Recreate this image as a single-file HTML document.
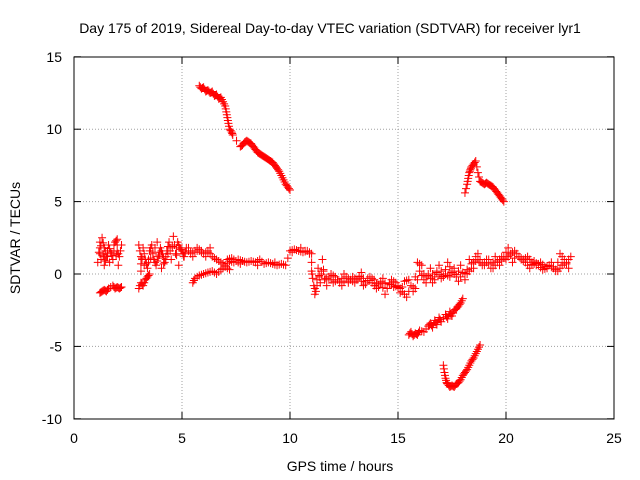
<!DOCTYPE html>
<html><head><meta charset="utf-8"><style>
body{margin:0;background:#fff}
svg{display:block;font-family:"Liberation Sans",sans-serif}
</style></head><body>
<svg id="c" width="640" height="480">
<rect width="640" height="480" fill="#fff"/>
<text x="330" y="33" font-size="14" text-anchor="middle">Day 175 of 2019, Sidereal Day-to-day VTEC variation (SDTVAR) for receiver lyr1</text>
<text x="340" y="471" font-size="14" text-anchor="middle">GPS time / hours</text>
<text transform="translate(20,238) rotate(-90)" font-size="14" text-anchor="middle">SDTVAR / TECUs</text>
<g id="grid"></g><g id="marks"></g>
<rect x="74" y="57" width="540" height="362" fill="none" stroke="#000"/>
</svg>
<script>
const xTicks=[0,5,10,15,20,25];
const yTicks=[-10,-5,0,5,10,15];
const trackAx=[5.8,5.9,6.0,6.1,6.2,6.3,6.4,6.5,6.6,6.7,6.8,6.9,7.0,7.05,7.1,7.15,7.2,7.3,7.35,7.7,7.8,7.9,8.0,8.1,8.2,8.3,8.4,8.5,8.6,8.7,8.8,8.9,9.0,9.1,9.2,9.3,9.4,9.5,9.6,9.7,9.8,9.9,10.0];
const trackAy=[13.0,12.8,12.9,12.6,12.7,12.5,12.6,12.3,12.4,12.1,12.2,11.9,11.6,11.2,10.8,10.4,10.0,9.8,9.6,8.8,8.9,9.1,9.2,9.1,9.0,8.8,8.6,8.4,8.3,8.2,8.1,8.0,7.9,7.8,7.7,7.5,7.3,7.1,6.8,6.5,6.2,6.0,5.8];
const trackBx=[18.1,18.2,18.25,18.3,18.35,18.4,18.5,18.6,18.7,18.8,18.9,19.0,19.1,19.2,19.3,19.4,19.5,19.6,19.7,19.8,19.9];
const trackBy=[5.6,6.2,6.6,7.0,7.2,7.4,7.6,7.8,7.0,6.4,6.3,6.2,6.3,6.2,6.1,6.0,5.8,5.6,5.4,5.2,5.0];
const trackCx=[15.5,15.6,15.7,15.8,15.9,16.0,16.2,16.4,16.5,16.6,16.7,16.8,16.9,17.0,17.2,17.3,17.4,17.5,17.6,17.7,17.8,17.9,18.0];
const trackCy=[-4.2,-4.0,-4.3,-4.1,-4.2,-3.9,-4.0,-3.6,-3.4,-3.7,-3.2,-3.5,-3.0,-3.3,-2.8,-3.1,-2.6,-2.9,-2.5,-2.4,-2.2,-2.0,-1.7];
const trackDx=[17.1,17.15,17.2,17.25,17.3,17.4,17.5,17.6,17.7,17.8,17.9,18.0,18.1,18.2,18.3,18.4,18.5,18.6,18.7,18.8];
const trackDy=[-6.3,-6.8,-7.2,-7.5,-7.6,-7.8,-7.7,-7.8,-7.6,-7.5,-7.3,-7.0,-6.8,-6.6,-6.3,-6.0,-5.8,-5.5,-5.2,-4.9];
const lowX=[1.2,1.3,1.4,1.5,1.6,1.8,1.9,2.0,2.1,2.2,3.0,3.1,3.2,3.3,3.4,3.5,5.5,5.6,5.8,6.0,6.2,6.4,6.6,6.8,7.0,7.2];
const lowY=[-1.3,-1.2,-1.1,-1.2,-1.0,-0.8,-1.0,-0.9,-1.0,-0.9,-1.0,-0.6,-0.8,-0.4,-0.2,0.0,-0.6,-0.3,-0.1,0.0,0.1,0.2,0.0,0.3,0.5,0.3];
const bandX=[1.1,1.2,1.2,1.3,1.4,1.4,1.5,1.6,1.7,1.8,1.9,2.0,2.0,2.1,2.2,3.0,3.1,3.1,3.2,3.3,3.4,3.5,3.6,3.7,3.8,3.9,4.0,4.1,4.2,4.3,4.4,4.5,4.6,4.7,4.8,4.9,5.0,5.1,5.2,5.4,5.6,5.8,6.0,6.2,6.4,6.6,6.8,7.0,7.2,7.4,7.6,7.8,8.0,8.2,8.4,8.6,8.8,9.0,9.2,9.4,9.6,9.8,10.0,10.2,10.4,10.6,10.8,11.0,11.0,11.1,11.2,11.3,11.4,11.5,11.6,11.8,12.0,12.2,12.4,12.6,12.8,13.0,13.2,13.4,13.6,13.8,14.0,14.2,14.4,14.6,14.8,15.0,15.2,15.4,15.6,15.8,16.0,16.2,16.4,16.6,16.8,17.0,17.2,17.4,17.6,17.8,18.0,18.2,18.4,18.6,18.8,19.0,19.2,19.4,19.6,19.8,20.0,20.2,20.4,20.6,20.8,21.0,21.2,21.4,21.6,21.8,22.0,22.2,22.4,22.6,22.8,23.0];
const bandY=[0.8,2.2,1.4,2.5,1.8,0.6,1.2,2.0,1.5,1.0,2.2,2.4,1.6,1.2,2.0,2.0,1.2,0.2,1.8,1.0,0.4,1.6,2.0,1.0,0.6,1.2,1.8,1.4,0.8,1.6,2.2,1.0,2.6,1.4,2.2,1.8,1.6,1.2,1.8,1.4,1.6,1.6,1.4,1.6,1.2,1.0,0.8,0.6,0.9,0.8,1.0,0.9,0.8,0.9,0.8,1.0,0.7,0.8,0.7,0.6,0.7,0.6,1.6,1.7,1.6,1.5,1.6,1.4,0.2,-0.8,-1.2,0.4,-0.6,1.0,-0.4,-0.2,-0.6,-0.4,-0.8,-0.2,-0.4,-0.6,-0.2,-0.8,-0.3,-0.6,-1.0,-0.5,-1.4,-0.6,-0.9,-0.8,-1.2,-1.6,-0.8,-1.0,0.2,-0.4,0.0,-0.6,0.2,-0.3,0.0,-0.2,0.4,-0.5,0.1,0.0,0.4,1.2,0.8,0.6,1.0,0.4,0.8,1.2,1.0,1.4,1.6,1.2,1.0,1.2,0.8,0.6,0.8,0.5,0.6,0.4,0.2,0.6,0.8,1.2,0.8,1.0];
const band2X=[1.25,1.45,1.65,1.85,2.05,3.05,3.25,3.45,3.65,3.85,4.05,4.25,4.45,4.65,4.85,5.3,5.5,5.7,5.9,6.1,6.3,7.1,7.3,7.5,7.7,8.5,9.3,10.1,10.5,10.9,11.15,11.35,11.55,11.7,11.9,12.1,12.3,12.5,12.7,12.9,13.1,13.3,13.5,13.7,13.9,14.1,14.3,14.5,14.7,14.9,15.1,15.3,15.5,15.7,15.9,16.1,16.3,16.5,16.7,16.9,17.1,17.3,17.5,17.7,17.9,18.1,18.3,18.5,18.7,18.9,19.1,19.3,19.5,19.7,19.9,20.1,20.3,20.5,20.7,20.9,21.1,21.3,21.5,21.7,21.9,22.1,22.3,22.5,22.7,22.9];
const band2Y=[1.0,1.6,0.8,2.0,0.6,1.6,0.6,0.8,1.4,2.2,0.4,1.0,1.8,2.0,0.6,1.8,1.2,1.8,1.6,1.2,1.8,1.0,1.1,0.9,0.7,0.6,0.8,1.5,1.8,1.4,-1.4,-0.2,0.2,-0.8,0.0,-0.2,-0.6,0.0,-0.6,-0.2,-0.4,0.1,-0.7,-0.2,-0.4,-0.9,-0.3,-1.0,-0.4,-0.6,-1.3,-0.5,-0.4,-1.2,0.8,0.6,-0.6,0.4,-0.4,0.6,-0.2,0.8,0.2,-0.2,0.6,-0.4,1.0,0.4,1.4,0.6,1.0,0.4,1.2,0.6,1.2,1.8,0.8,1.4,1.0,0.8,0.4,0.9,0.6,0.3,0.4,0.8,0.2,1.4,1.0,0.4];
const xs=v=>74+v*21.6, ys=v=>274-v*14.48;
const NS='http://www.w3.org/2000/svg';
const grid=document.getElementById('grid'), marks=document.getElementById('marks');
function el(t,a,p){const e=document.createElementNS(NS,t);for(const k in a)e.setAttribute(k,a[k]);p.appendChild(e);return e;}
xTicks.forEach(t=>{const x=xs(t);
 if(t>0&&t<25){const l=el('line',{x1:x,x2:x,y1:57,y2:419,stroke:'#a0a0a0','stroke-dasharray':'1,2'},grid);}
 el('line',{x1:x,x2:x,y1:419,y2:412,stroke:'#000'},grid);el('line',{x1:x,x2:x,y1:57,y2:64,stroke:'#000'},grid);
 const tx=el('text',{x:x,y:443,'font-size':14,'text-anchor':'middle'},grid);tx.textContent=t;
 });
yTicks.forEach(t=>{const y=ys(t);
 if(t>-10&&t<15){const l=el('line',{x1:74,x2:614,y1:y,y2:y,stroke:'#a0a0a0','stroke-dasharray':'1,2'},grid);}
 el('line',{x1:74,x2:81,y1:y,y2:y,stroke:'#000'},grid);el('line',{x1:614,x2:607,y1:y,y2:y,stroke:'#000'},grid);
 const tx=el('text',{x:62,y:y+5,'font-size':14,'text-anchor':'end'},grid);tx.textContent=t;
 });
let d='';
[[trackAx,trackAy],[trackBx,trackBy],[trackCx,trackCy],[trackDx,trackDy],[lowX,lowY],[bandX,bandY],[band2X,band2Y]].forEach(([X,Y])=>{
 for(let i=0;i<X.length;i++){const x=xs(X[i]),y=ys(Y[i]);d+=`M${x-4},${y}h8M${x},${y-4}v8`;
  if(i<X.length-1&&Math.abs(X[i+1]-X[i])<0.5){const mx=xs((X[i]+X[i+1])/2),my=ys((Y[i]+Y[i+1])/2);d+=`M${mx-4},${my}h8M${mx},${my-4}v8`;}}});
const p=el('path',{d:d,stroke:'#f00','stroke-width':1,fill:'none'},marks);


</script>
</body></html>
